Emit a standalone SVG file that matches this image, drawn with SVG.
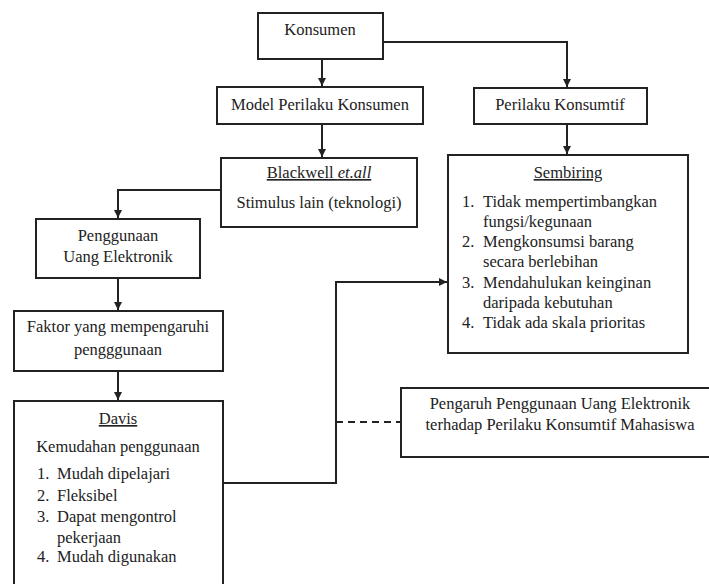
<svg xmlns="http://www.w3.org/2000/svg" width="709" height="584" viewBox="0 0 709 584">
<style>
.box{fill:#fff;stroke:#222;stroke-width:2}
.t{font-family:'Liberation Serif','Times New Roman','DejaVu Serif',serif;font-size:16.5px;fill:#222}
.c{text-anchor:middle}
.ln{fill:none;stroke:#222;stroke-width:2}
.u{text-decoration:underline}
</style>
<defs>
<marker id="ah" markerWidth="10" markerHeight="10" refX="9" refY="5" orient="auto" markerUnits="userSpaceOnUse">
<path d="M1,1 L9,5 L1,9 Z" fill="#222"/>
</marker>
</defs>
<rect width="709" height="584" fill="#fff"/>
<g id="connectors">
<line class="ln" x1="322" y1="59" x2="322" y2="86" marker-end="url(#ah)"/>
<polyline class="ln" points="383,42 567,42 567,87" marker-end="url(#ah)"/>
<line class="ln" x1="322" y1="124" x2="322" y2="157" marker-end="url(#ah)"/>
<line class="ln" x1="567" y1="124" x2="567" y2="154" marker-end="url(#ah)"/>
<polyline class="ln" points="221,190 118,190 118,218" marker-end="url(#ah)"/>
<line class="ln" x1="118" y1="278" x2="118" y2="310" marker-end="url(#ah)"/>
<line class="ln" x1="118" y1="371" x2="118" y2="400" marker-end="url(#ah)"/>
<polyline class="ln" points="223,483 336,483 336,282 447,282" marker-end="url(#ah)"/>
<line class="ln" x1="336" y1="422" x2="401" y2="422" stroke-dasharray="7,5"/>
</g>
<g id="konsumen">
<rect class="box" x="258" y="13" width="125" height="46"/>
<text class="t c" x="320" y="35" font-family="Liberation Serif, serif">Konsumen</text>
</g>
<g id="model">
<rect class="box" x="217" y="87" width="206" height="37"/>
<text class="t c" x="320" y="110" font-family="Liberation Serif, serif">Model Perilaku Konsumen</text>
</g>
<g id="perilaku">
<rect class="box" x="474" y="88" width="173" height="36"/>
<text class="t c" x="560" y="110">Perilaku Konsumtif</text>
</g>
<g id="blackwell">
<rect class="box" x="221" y="158" width="196" height="69"/>
<text class="t c" x="319" y="178"><tspan class="u">Blackwell <tspan font-style="italic">et.all</tspan></tspan></text>
<text class="t c" x="319" y="208">Stimulus lain (teknologi)</text>
</g>
<g id="penggunaan">
<rect class="box" x="36" y="219" width="164" height="59"/>
<text class="t c" x="118" y="241">Penggunaan</text>
<text class="t c" x="118" y="262">Uang Elektronik</text>
</g>
<g id="faktor">
<rect class="box" x="14" y="311" width="209" height="60"/>
<text class="t c" x="118" y="332">Faktor yang mempengaruhi</text>
<text class="t c" x="118" y="355">pengggunaan</text>
</g>
<g id="davis">
<rect class="box" x="14" y="401" width="209" height="200"/>
<text class="t c u" x="118" y="424">Davis</text>
<text class="t c" x="118" y="452">Kemudahan penggunaan</text>
<text class="t" x="37" y="479">1.</text><text class="t" x="57" y="479">Mudah dipelajari</text>
<text class="t" x="37" y="501">2.</text><text class="t" x="57" y="501">Fleksibel</text>
<text class="t" x="37" y="522">3.</text><text class="t" x="57" y="522">Dapat mengontrol</text>
<text class="t" x="57" y="543">pekerjaan</text>
<text class="t" x="37" y="562">4.</text><text class="t" x="57" y="562">Mudah digunakan</text>
</g>
<g id="sembiring">
<rect class="box" x="448" y="155" width="240" height="198"/>
<text class="t c u" x="568" y="178">Sembiring</text>
<text class="t" x="462" y="207">1.</text><text class="t" x="483" y="207">Tidak mempertimbangkan</text>
<text class="t" x="483" y="227">fungsi/kegunaan</text>
<text class="t" x="462" y="247">2.</text><text class="t" x="483" y="247">Mengkonsumsi barang</text>
<text class="t" x="483" y="267">secara berlebihan</text>
<text class="t" x="462" y="288">3.</text><text class="t" x="483" y="288">Mendahulukan keinginan</text>
<text class="t" x="483" y="308">daripada kebutuhan</text>
<text class="t" x="462" y="328">4.</text><text class="t" x="483" y="328">Tidak ada skala prioritas</text>
</g>
<g id="pengaruh">
<rect class="box" x="401" y="388" width="330" height="69"/>
<text class="t c" x="560" y="409">Pengaruh Penggunaan Uang Elektronik</text>
<text class="t c" x="560" y="430">terhadap Perilaku Konsumtif Mahasiswa</text>
</g>
</svg>
